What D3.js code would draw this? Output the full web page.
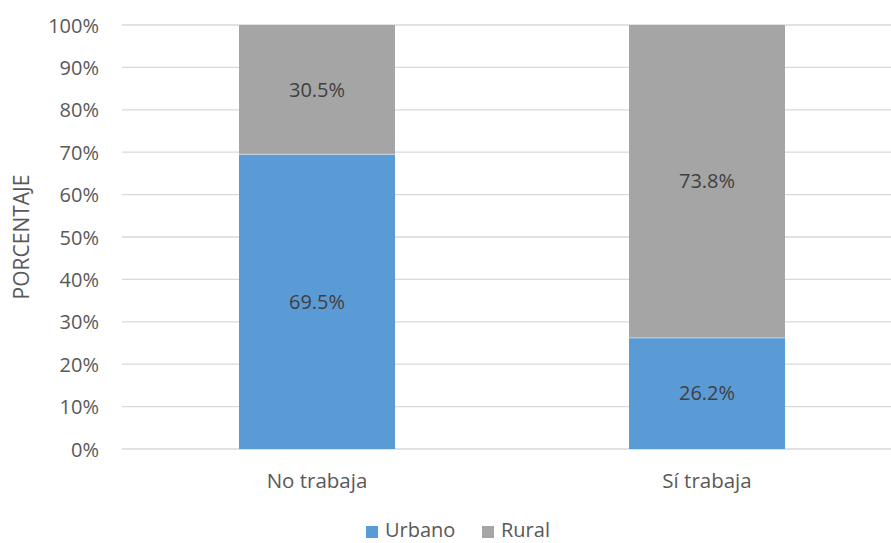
<!DOCTYPE html>
<html><head><meta charset="utf-8">
<script src="https://cdn.jsdelivr.net/npm/d3@7"></script>
<style>body{margin:0;background:#fff;}svg{display:block;font-family:"Open Sans",sans-serif;}</style>
</head><body>
<script>
const categories = ["No trabaja", "Sí trabaja"];
const seriesNames = ["Urbano", "Rural"];
const urbano = [69.5, 26.2];
const rural = [30.5, 73.8];
const yTicks = [0,10,20,30,40,50,60,70,80,90,100];
const colors = ["#5B9BD5", "#A5A5A5"];

const W = 891, H = 543;
const svg = d3.select("body").append("svg").attr("width", W).attr("height", H);
const x = d3.scaleBand().domain(categories).range([122, 902]).paddingInner(0.6).paddingOuter(0.3);
const y = d3.scaleLinear().domain([0, 100]).range([449, 25]);

// gridlines
svg.append("g").selectAll("line").data(yTicks).join("line")
  .attr("x1", 122).attr("x2", W).attr("y1", d => y(d)).attr("y2", d => y(d))
  .attr("stroke", "#D9D9D9").attr("stroke-width", 1.3);

// y axis labels
const yAxis = d3.axisLeft(y).tickValues(yTicks).tickFormat(d => d + "%").tickSize(0).tickPadding(0);
const ga = svg.append("g").attr("transform", "translate(99,0)").call(yAxis);
ga.select(".domain").remove();
ga.selectAll("text").attr("fill", "#595959").style("font-size", "20px").style("font-family", "'Open Sans',sans-serif").attr("dy", "0.35em");

// stacked data
const rows = categories.map((c, i) => ({cat: c, Urbano: urbano[i], Rural: rural[i]}));
const stack = d3.stack().keys(seriesNames)(rows);
const layers = svg.append("g").selectAll("g").data(stack).join("g").attr("fill", (d, i) => colors[i]);
layers.selectAll("rect").data(d => d).join("rect")
  .attr("x", d => x(d.data.cat)).attr("width", x.bandwidth())
  .attr("y", d => y(d[1])).attr("height", d => y(d[0]) - y(d[1]));
// thin white separators
svg.append("g").selectAll("line").data(rows).join("line")
  .attr("x1", d => x(d.cat)).attr("x2", d => x(d.cat) + x.bandwidth())
  .attr("y1", d => y(d.Urbano)).attr("y2", d => y(d.Urbano))
  .attr("stroke", "#fff").attr("stroke-width", 0.8).attr("stroke-opacity", 0.6);

// data labels
const lbl = svg.append("g");
stack.forEach(layer => {
  lbl.selectAll(null).data(layer).join("text")
    .attr("x", d => x(d.data.cat) + x.bandwidth() / 2)
    .attr("y", d => (y(d[0]) + y(d[1])) / 2)
    .attr("dy", "0.35em").attr("text-anchor", "middle")
    .attr("fill", "#404040").style("font-size", "20px")
    .text(d => (d[1] - d[0]).toFixed(1) + "%");
});

// x axis labels
svg.append("g").selectAll("text").data(categories).join("text")
  .attr("x", d => x(d) + x.bandwidth() / 2).attr("y", 481)
  .attr("dy", "0.35em").attr("text-anchor", "middle")
  .attr("fill", "#595959").style("font-size", "20.5px").text(d => d);

// y title
svg.append("text").attr("transform", "translate(22,237) rotate(-90)")
  .attr("text-anchor", "middle").attr("dy", "0.35em")
  .attr("fill", "#595959").style("font-size", "21px").text("PORCENTAJE");

// legend
const leg = svg.append("g");
const legX = [366, 482];
seriesNames.forEach((s, i) => {
  leg.append("rect").attr("x", legX[i]).attr("y", 526).attr("width", 12).attr("height", 12).attr("fill", colors[i]);
  leg.append("text").attr("x", legX[i] + 19).attr("y", 537)
    .attr("fill", "#595959").style("font-size", "20px").text(s);
});
</script>
</body></html>
